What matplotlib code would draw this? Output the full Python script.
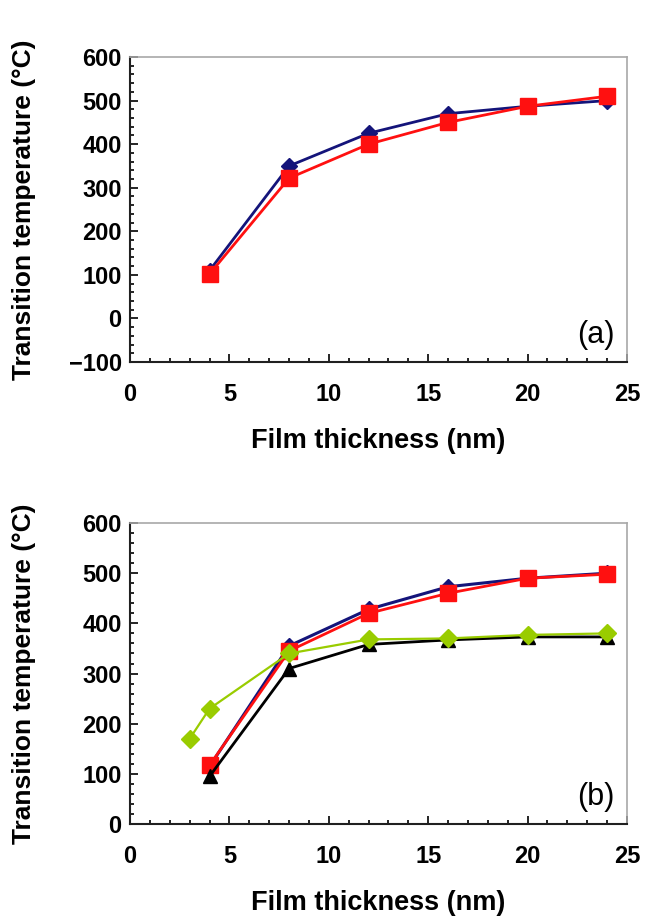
import numpy as np
import matplotlib.pyplot as plt
from matplotlib.ticker import MultipleLocator

plt.rcParams['font.family'] = ['Liberation Sans', 'DejaVu Sans']

# panel (a)
xa = [4, 8, 12, 16, 20, 24]
a_blue = [110, 350, 425, 470, 487, 500]
a_red = [102, 322, 400, 450, 487, 510]

# panel (b)
xb = [4, 8, 12, 16, 20, 24]
b_blue = [115, 355, 428, 473, 490, 500]
b_red = [117, 345, 420, 460, 490, 498]
b_black = [95, 310, 358, 367, 373, 373]
xg = [3, 4, 8, 12, 16, 20, 24]
b_green = [170, 230, 340, 368, 370, 377, 380]

navy = '#14147a'
red = '#ff1010'
green = '#99cc00'

fig = plt.figure(figsize=(6.45, 9.17), dpi=100)
ax1 = fig.add_axes([0.2016, 0.6052, 0.7705, 0.3326])
ax2 = fig.add_axes([0.2016, 0.1014, 0.7705, 0.3282])


def style(ax, ymin, ymax, tag):
    ax.set_xlim(0, 25)
    ax.set_ylim(ymin, ymax)
    ax.xaxis.set_major_locator(MultipleLocator(5))
    ax.xaxis.set_minor_locator(MultipleLocator(1))
    ax.yaxis.set_major_locator(MultipleLocator(100))
    ax.yaxis.set_minor_locator(MultipleLocator(20))
    ax.tick_params(which='both', direction='in', top=False, right=False, width=1.2)
    ax.tick_params(which='major', length=6)
    ax.tick_params(which='minor', length=3)
    ax.tick_params(axis='x', pad=15, labelsize=17)
    ax.tick_params(axis='y', pad=6, labelsize=17)
    for lbl in ax.get_xticklabels() + ax.get_yticklabels():
        lbl.set_fontweight('bold')
    for s in ['top', 'right']:
        ax.spines[s].set_color('#a8a8a8')
        ax.spines[s].set_linewidth(1.2)
    for s in ['left', 'bottom']:
        ax.spines[s].set_color('#202020')
        ax.spines[s].set_linewidth(1.5)
    ax.set_xlabel('Film thickness (nm)', fontsize=19.5, fontweight='bold', labelpad=16)
    ax.set_ylabel('Transition temperature (°C)', fontsize=19, fontweight='bold')
    ax.yaxis.set_label_coords(-0.19, 0.5)
    ax.text(0.975, 0.04, tag, transform=ax.transAxes, ha='right', va='bottom', fontsize=22)


ax1.plot(xa, a_blue, color=navy, marker='D', markersize=8, lw=2)
ax1.plot(xa, a_red, color=red, marker='s', markersize=11, lw=2)
style(ax1, -100, 600, '(a)')

ax2.plot(xb, b_blue, color=navy, marker='D', markersize=8, lw=2.2)
ax2.plot(xb, b_red, color=red, marker='s', markersize=11, lw=2)
ax2.plot(xb, b_black, color='black', marker='^', markersize=10, lw=2)
ax2.plot(xg, b_green, color=green, marker='D', markersize=9, lw=1.6)
style(ax2, 0, 600, '(b)')

fig.savefig('out.png', dpi=100)
